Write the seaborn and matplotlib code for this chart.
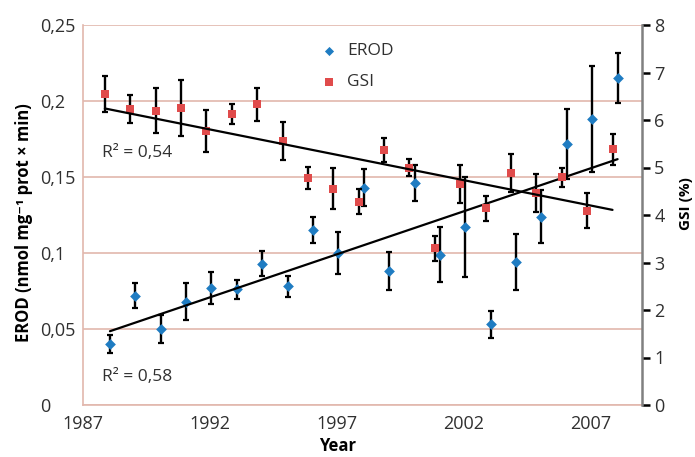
import numpy as np
import pandas as pd
import matplotlib
matplotlib.use("Agg")
import matplotlib.pyplot as plt
import seaborn as sns

years = [1988, 1989, 1990, 1991, 1992, 1993, 1994, 1995, 1996, 1997, 1998,
         1999, 2000, 2001, 2002, 2003, 2004, 2005, 2006, 2007, 2008]
erod = [0.040, 0.072, 0.050, 0.068, 0.077, 0.076, 0.093, 0.078, 0.115, 0.100, 0.143,
        0.088, 0.146, 0.099, 0.117, 0.053, 0.094, 0.124, 0.172, 0.188, 0.215]
erod_err = [0.006, 0.008, 0.009, 0.012, 0.0105, 0.0065, 0.008, 0.007, 0.0085, 0.014, 0.012,
            0.0125, 0.012, 0.018, 0.033, 0.009, 0.0185, 0.0175, 0.023, 0.035, 0.0165]
gsi = [6.54, 6.23, 6.20, 6.25, 5.77, 6.13, 6.33, 5.56, 4.78, 4.55, 4.28,
       5.37, 5.00, 3.30, 4.65, 4.14, 4.88, 4.46, 4.79, 4.09, 5.38]
gsi_err = [0.38, 0.30, 0.48, 0.59, 0.44, 0.21, 0.35, 0.40, 0.23, 0.43, 0.26,
           0.26, 0.18, 0.26, 0.40, 0.26, 0.40, 0.40, 0.20, 0.37, 0.33]
r2_labels = ["R² = 0,54", "R² = 0,58"]
left_ticks = [0, 0.05, 0.1, 0.15, 0.2, 0.25]
left_ticklabels = ["0", "0,05", "0,1", "0,15", "0,2", "0,25"]
right_ticks = [0, 1, 2, 3, 4, 5, 6, 7, 8]
x_ticks = [1987, 1992, 1997, 2002, 2007]

df = pd.DataFrame({"year": years, "erod": erod, "erod_err": erod_err,
                   "gsi": gsi, "gsi_err": gsi_err})
df["x_erod"] = df["year"] + 0.05
df["x_gsi"] = df["year"] - 0.15

sns.set_theme(style="white")
plt.rcParams["font.family"] = ["Open Sans", "DejaVu Sans"]

BLUE = "#1f7cc2"
RED = "#e04b4b"
GRID = "#e2b7ad"
TXT = "#303030"

W, H = 695, 457
fig = plt.figure(figsize=(W / 100, H / 100), dpi=100)
ax1 = fig.add_axes([83.3 / W, 1 - 405 / H, (641.7 - 83.3) / W, 380 / H])
ax2 = ax1.twinx()

# EROD on primary axis
ax1.errorbar(df["x_erod"], df["erod"], yerr=df["erod_err"], fmt="none",
             ecolor="black", elinewidth=1.7, capsize=2.4, capthick=1.6, zorder=2)
sns.scatterplot(data=df, x="x_erod", y="erod", marker="D", s=30, color=BLUE,
                edgecolor=BLUE, linewidth=0, ax=ax1, zorder=3, label="EROD", legend=False)
sns.regplot(data=df, x="x_erod", y="erod", scatter=False, ci=None, color="black",
            line_kws={"lw": 1.6, "zorder": 4}, ax=ax1)

# GSI on secondary axis
ax2.errorbar(df["x_gsi"], df["gsi"], yerr=df["gsi_err"], fmt="none",
             ecolor="black", elinewidth=1.7, capsize=2.4, capthick=1.6, zorder=2)
sns.scatterplot(data=df, x="x_gsi", y="gsi", marker="s", s=40, color=RED,
                edgecolor=RED, linewidth=0, ax=ax2, zorder=3, label="GSI", legend=False)
sns.regplot(data=df, x="x_gsi", y="gsi", scatter=False, ci=None, color="black",
            line_kws={"lw": 1.6, "zorder": 4}, ax=ax2)

ax1.set_xlim(1987, 2009)
ax1.set_ylim(0, 0.25)
ax2.set_ylim(0, 8)

ax1.set_xticks(x_ticks)
ax1.set_xticklabels([str(t) for t in x_ticks])
ax1.set_yticks(left_ticks)
ax1.set_yticklabels(left_ticklabels, ha="left")
ax2.set_yticks(right_ticks)
ax2.set_yticklabels([str(t) for t in right_ticks])

ax1.yaxis.grid(True, color=GRID, lw=1.2)
ax1.xaxis.grid(False)
ax2.grid(False)
ax1.set_axisbelow(True)

ax1.spines["top"].set_visible(False)
ax2.spines["top"].set_visible(False)
ax1.spines["right"].set_visible(False)
ax2.spines["left"].set_visible(False)
ax2.spines["bottom"].set_visible(False)
ax1.spines["left"].set_color(GRID)
ax1.spines["bottom"].set_color(GRID)
ax1.spines["left"].set_linewidth(1.2)
ax1.spines["bottom"].set_linewidth(1.2)
ax2.spines["right"].set_color("#808080")
ax2.spines["right"].set_linewidth(1.8)

ax1.tick_params(axis="y", length=0, pad=31.3, labelsize=13, labelcolor=TXT)
ax1.tick_params(axis="x", length=4.5, width=1.2, color=GRID, direction="out",
                pad=3, labelsize=13, labelcolor=TXT)
ax2.tick_params(axis="y", length=5.8, width=1.8, color="black", direction="out",
                pad=3.2, labelsize=13, labelcolor=TXT)

ax1.set_xlabel("")
ax1.set_ylabel("")
ax2.set_ylabel("")
fig.text(337.7 / W, 1 - 446 / H, "Year", fontsize=12, fontweight="bold",
         color="black", ha="center", va="center")
fig.text(24 / W, 1 - 222.5 / H, "EROD (nmol mg⁻¹ prot × min)", fontsize=12,
         fontweight="bold", color="black", ha="center", va="center", rotation=90)
fig.text(686 / W, 1 - 204 / H, "GSI (%)", fontsize=11, fontweight="bold",
         color="black", ha="center", va="center", rotation=90)

ax1.text(1987.75, 0.1658, r2_labels[0], fontsize=12.5, color=TXT, va="center")
ax1.text(1987.75, 0.0184, r2_labels[1], fontsize=12.5, color=TXT, va="center")

h1, l1 = ax1.get_legend_handles_labels()
h2, l2 = ax2.get_legend_handles_labels()
leg = ax2.legend(h1 + h2, l1 + l2, loc="upper left", bbox_to_anchor=(0.381, 0.993),
                 frameon=False, fontsize=12.5, handletextpad=0.05, labelspacing=0.85,
                 markerscale=0.85)
for t in leg.get_texts():
    t.set_color(TXT)

fig.savefig("out.png", dpi=100)
